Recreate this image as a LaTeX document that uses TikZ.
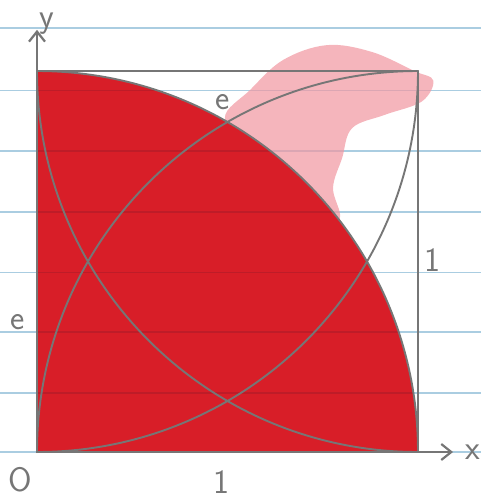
\documentclass[tikz,border=0pt]{standalone}
\usetikzlibrary{arrows.meta}
\definecolor{pencil}{RGB}{118,118,118}
\definecolor{redfill}{RGB}{216,30,40}
\definecolor{redline}{RGB}{190,28,40}
\definecolor{pinkwash}{RGB}{241,150,160}
\definecolor{ruled}{RGB}{170,205,225}
\tikzset{
  pencilline/.style={draw=pencil,line width=2.2pt,line cap=round,line join=round},
  thinpencil/.style={draw=pencil,line width=1.9pt,line cap=round},
  lbl/.style={text=pencil,font=\sffamily\fontsize{34}{34}\selectfont,inner sep=0pt},
  ruleline/.style={draw=ruled,line width=1.1pt}
}
\begin{document}
\begin{tikzpicture}[x=381pt,y=381pt]
\useasboundingbox (-0.0971,-0.1286) rectangle (1.1654,1.1864);
% ruled paper
\foreach \yy in {1.113,0.950,0.790,0.630,0.472,0.315,0.155,0.0}
  \draw[ruleline] (-0.0971,\yy) -- (1.1654,\yy);
% pink wash
\fill[pinkwash,opacity=0.7] plot[smooth cycle,tension=0.6] coordinates {
  (0.493,0.877) (0.559,0.950) (0.646,1.029) (0.761,1.068) (0.879,1.050)
  (0.990,1.000) (1.040,0.975) (1.010,0.920) (0.913,0.885) (0.827,0.850)
  (0.801,0.772) (0.777,0.693) (0.795,0.614) (0.743,0.583) (0.559,0.793)};
% red quarter disc
\coordinate (O) at (0,0);
\coordinate (A) at (1,0);
\coordinate (B) at (1,1);
\coordinate (C) at (0,1);
\fill[redfill] (O) -- (C) arc[start angle=90,end angle=0,radius=1] -- cycle;
\begin{scope}
  \clip (O) -- (C) arc[start angle=90,end angle=0,radius=1] -- cycle;
  \foreach \yy in {0.950,0.790,0.630,0.472,0.315,0.155}
    \draw[draw=redline,line width=1.1pt] (0,\yy) -- (1,\yy);
\end{scope}
% square
\draw[pencilline] (O) rectangle (B);
% arcs
\draw[thinpencil] (C) arc[start angle=90,end angle=0,radius=1];
\draw[thinpencil] (O) arc[start angle=-90,end angle=0,radius=1];
\draw[thinpencil] (O) arc[start angle=180,end angle=90,radius=1];
\draw[thinpencil] (C) arc[start angle=180,end angle=270,radius=1];
% axes
\coordinate (Xend) at (1.092,0);
\coordinate (Yend) at (0,1.108);
\draw[pencilline,-{Straight Barb[length=10pt,width=16pt,line width=2.2pt]}] (O) -- (Xend);
\draw[pencilline,-{Straight Barb[length=10pt,width=16pt,line width=2.2pt]}] (O) -- (Yend);
% labels
\node[lbl] (ly) at (0.026,1.125) {y};
\node[lbl] (lx) at (1.145,0.0) {x};
\node[lbl] (lo) at (-0.045,-0.073) {O};
\node[lbl] (l1b) at (0.483,-0.079) {1};
\node[lbl] (l1r) at (1.039,0.504) {1};
\node[lbl] (lel) at (-0.052,0.341) {e};
\node[lbl] (let) at (0.486,0.919) {e};
\end{tikzpicture}
\end{document}
